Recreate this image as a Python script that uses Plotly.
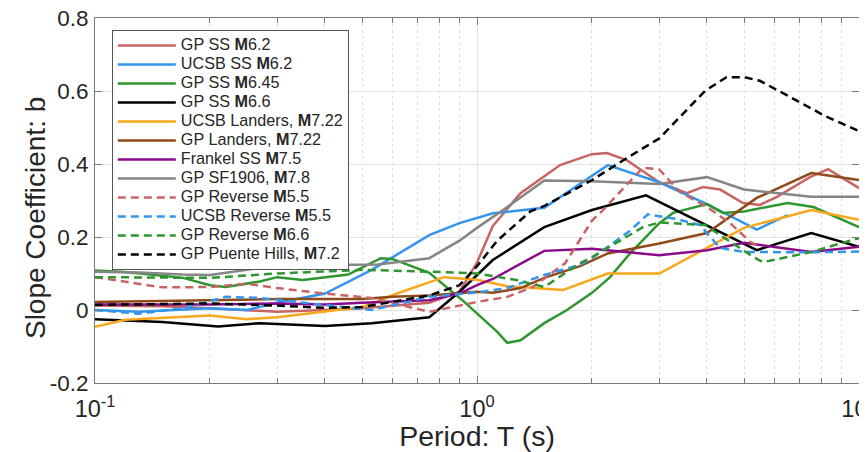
import plotly.graph_objects as go

# ---------------- data ----------------
T_gp_ss_62 = [0.1, 0.15, 0.2, 0.3, 0.4, 0.5, 0.75, 0.9, 1.0, 1.1, 1.3, 1.65, 2.0, 2.19, 2.47, 3.0, 3.54, 3.9, 4.33, 4.97, 5.5, 6.1, 7.44, 8.3, 10]
b_gp_ss_62 = [0.012, 0.01, 0.005, -0.005, 0.0, 0.005, 0.02, 0.05, 0.13, 0.23, 0.32, 0.397, 0.427, 0.43, 0.41, 0.35, 0.32, 0.337, 0.33, 0.293, 0.288, 0.31, 0.364, 0.386, 0.334]

T_ucsb_ss_62 = [0.1, 0.13, 0.2, 0.25, 0.3, 0.4, 0.53, 0.75, 0.9, 1.1, 1.5, 2.2, 3.0, 4.0, 5.4, 6.5]
b_ucsb_ss_62 = [0.0, -0.005, 0.005, 0.0, 0.02, 0.045, 0.11, 0.205, 0.238, 0.265, 0.28, 0.397, 0.35, 0.29, 0.22, 0.26]

T_gp_ss_645 = [0.1, 0.12, 0.17, 0.2, 0.22, 0.27, 0.3, 0.35, 0.46, 0.56, 0.6, 0.75, 0.92, 1.13, 1.2, 1.3, 1.5, 1.72, 2.0, 2.23, 2.52, 3.0, 3.26, 4.0, 4.4, 5.0, 6.5, 7.6, 10]
b_gp_ss_645 = [0.108, 0.104, 0.088, 0.068, 0.063, 0.078, 0.09, 0.082, 0.097, 0.142, 0.14, 0.102, 0.025, -0.06, -0.09, -0.083, -0.036, 0.0, 0.047, 0.09, 0.156, 0.238, 0.266, 0.29, 0.266, 0.27, 0.293, 0.282, 0.227]

T_gp_ss_66 = [0.1, 0.15, 0.21, 0.27, 0.4, 0.53, 0.75, 0.9, 1.1, 1.5, 2.0, 2.77, 5.4, 7.5, 10]
b_gp_ss_66 = [-0.025, -0.033, -0.045, -0.036, -0.044, -0.036, -0.02, 0.05, 0.137, 0.227, 0.274, 0.314, 0.164, 0.211, 0.173]

T_ucsb_landers = [0.1, 0.12, 0.2, 0.25, 0.3, 0.4, 0.5, 0.62, 0.82, 1.0, 1.2, 1.68, 2.2, 3.0, 4.0, 5.0, 7.5, 10]
b_ucsb_landers = [-0.046, -0.027, -0.015, -0.025, -0.02, -0.005, 0.008, 0.046, 0.09, 0.083, 0.065, 0.055, 0.1, 0.1, 0.17, 0.225, 0.274, 0.247]

T_gp_landers = [0.1, 0.2, 0.3, 0.4, 0.5, 0.6, 0.75, 1.0, 1.1, 1.3, 1.5, 1.86, 2.2, 3.0, 4.0, 5.4, 7.5, 10]
b_gp_landers = [0.022, 0.027, 0.03, 0.03, 0.03, 0.036, 0.04, 0.05, 0.047, 0.06, 0.088, 0.12, 0.155, 0.182, 0.211, 0.307, 0.375, 0.356]

T_frankel = [0.1, 0.2, 0.3, 0.4, 0.5, 0.75, 0.9, 1.0, 1.1, 1.5, 2.0, 3.0, 4.0, 5.0, 7.5, 10]
b_frankel = [0.015, 0.015, 0.018, 0.015, 0.02, 0.027, 0.045, 0.068, 0.085, 0.162, 0.168, 0.15, 0.164, 0.184, 0.159, 0.173]

T_gp_sf1906 = [0.1, 0.13, 0.17, 0.2, 0.27, 0.4, 0.55, 0.75, 0.9, 1.0, 1.17, 1.5, 2.0, 3.0, 4.0, 5.0, 7.5, 10]
b_gp_sf1906 = [0.105, 0.103, 0.097, 0.096, 0.115, 0.123, 0.125, 0.142, 0.19, 0.225, 0.274, 0.355, 0.353, 0.345, 0.364, 0.33, 0.31, 0.31]

T_gp_rev_55 = [0.1, 0.15, 0.2, 0.25, 0.3, 0.4, 0.53, 0.75, 1.0, 1.2, 1.4, 1.7, 2.0, 2.14, 2.5, 2.72, 3.0, 3.4, 4.0, 4.6, 5.2, 5.5]
b_gp_rev_55 = [0.09, 0.062, 0.063, 0.072, 0.06, 0.045, 0.033, -0.005, 0.022, 0.036, 0.063, 0.128, 0.245, 0.274, 0.35, 0.39, 0.385, 0.323, 0.282, 0.238, 0.186, 0.173]

T_ucsb_rev_55 = [0.1, 0.13, 0.17, 0.22, 0.27, 0.35, 0.53, 0.75, 1.0, 1.2, 1.5, 1.85, 2.0, 2.5, 2.8, 3.3, 3.83, 4.33, 5.0, 7.5, 10]
b_ucsb_rev_55 = [0.0, -0.01, 0.005, 0.036, 0.033, 0.02, 0.0, 0.036, 0.048, 0.06, 0.096, 0.123, 0.142, 0.215, 0.262, 0.25, 0.233, 0.17, 0.159, 0.158, 0.16]

T_gp_rev_66 = [0.1, 0.2, 0.3, 0.5, 0.75, 1.0, 1.27, 1.5, 1.86, 2.0, 2.72, 3.0, 3.95, 5.3, 5.6, 7.5, 10]
b_gp_rev_66 = [0.09, 0.088, 0.1, 0.11, 0.105, 0.1, 0.082, 0.063, 0.128, 0.145, 0.227, 0.24, 0.233, 0.145, 0.131, 0.159, 0.197]

T_gp_puente = [0.1, 0.2, 0.3, 0.4, 0.5, 0.75, 0.9, 1.0, 1.13, 1.38, 1.5, 2.0, 2.5, 3.0, 3.95, 4.5, 5.0, 5.5, 6.7, 8.2, 10]
b_gp_puente = [0.014, 0.018, 0.012, 0.006, 0.008, 0.04, 0.068, 0.12, 0.19, 0.27, 0.285, 0.356, 0.42, 0.47, 0.6, 0.638, 0.638, 0.628, 0.58, 0.53, 0.49]

names = [
    "GP SS <b>M</b>6.2", "UCSB SS <b>M</b>6.2", "GP SS <b>M</b>6.45", "GP SS <b>M</b>6.6",
    "UCSB Landers, <b>M</b>7.22", "GP Landers, <b>M</b>7.22", "Frankel SS <b>M</b>7.5",
    "GP SF1906, <b>M</b>7.8", "GP Reverse <b>M</b>5.5", "UCSB Reverse <b>M</b>5.5",
    "GP Reverse <b>M</b>6.6", "GP Puente Hills, <b>M</b>7.2",
]

x_tick_vals = [0.1, 1, 10]
x_tick_text = ["10<sup>-1</sup>", "10<sup>0</sup>", "10<sup>1</sup>"]
x_minor_vals = [0.2, 0.3, 0.4, 0.5, 0.6, 0.7, 0.8, 0.9, 2, 3, 4, 5, 6, 7, 8, 9]
y_tick_vals = [-0.2, 0, 0.2, 0.4, 0.6, 0.8]
y_tick_text = ["-0.2", "0", "0.2", "0.4", "0.6", "0.8"]
x_title = "Period: T (s)"
y_title = "Slope Coefficient: b"

# ---------------- styling ----------------
RED = "#C96464"
BLUE = "#3396EE"
GREEN = "#2E962E"
BLACK = "#000000"
ORANGE = "#F7A81E"
BROWN = "#8F4A1A"
PURPLE = "#8A0A8A"
GRAY = "#858585"
DASH = "8px,5px"

series = [
    (T_gp_ss_62, b_gp_ss_62, RED, "solid"),
    (T_ucsb_ss_62, b_ucsb_ss_62, BLUE, "solid"),
    (T_gp_ss_645, b_gp_ss_645, GREEN, "solid"),
    (T_gp_ss_66, b_gp_ss_66, BLACK, "solid"),
    (T_ucsb_landers, b_ucsb_landers, ORANGE, "solid"),
    (T_gp_landers, b_gp_landers, BROWN, "solid"),
    (T_frankel, b_frankel, PURPLE, "solid"),
    (T_gp_sf1906, b_gp_sf1906, GRAY, "solid"),
    (T_gp_rev_55, b_gp_rev_55, RED, DASH),
    (T_ucsb_rev_55, b_ucsb_rev_55, BLUE, DASH),
    (T_gp_rev_66, b_gp_rev_66, GREEN, DASH),
    (T_gp_puente, b_gp_puente, BLACK, DASH),
]

fig = go.Figure()
for (t, b, c, d), n in zip(series, names):
    fig.add_trace(go.Scatter(x=t, y=b, mode="lines",
                             name='<span style="font-size:16.2px">' + n + '</span>',
                             line=dict(color=c, width=2.5, dash=d)))

FONT = "Liberation Sans, Arial, Helvetica, sans-serif"
AXC = "#7a7a7a"
# page body has an 8px margin, so the figure is sized/offset accordingly
fig.update_layout(
    width=859, height=444,
    margin=dict(l=87, r=8, t=10, b=69),
    paper_bgcolor="white", plot_bgcolor="white",
    font=dict(family=FONT, color="#262626", size=22),
    showlegend=True,
    legend=dict(x=0.022, y=0.967, xanchor="left", yanchor="top",
                bgcolor="white", bordercolor="#555555", borderwidth=1,
                font=dict(size=12, color="#262626", family=FONT),
                tracegroupgap=0, itemwidth=58),
    xaxis=dict(type="log", range=[-1, 1],
               tickmode="array", tickvals=x_tick_vals, ticktext=x_tick_text,
               ticks="inside", ticklen=7, tickcolor=AXC,
               showline=True, linecolor=AXC, linewidth=1, mirror="ticks",
               showgrid=True, gridcolor="#e3e3e3", gridwidth=1,
               zeroline=False, ticklabelstandoff=5, ticklabeloverflow="allow",
               minor=dict(tickmode="array", tickvals=x_minor_vals, ticks="inside",
                          ticklen=5, tickcolor=AXC, showgrid=True,
                          gridcolor="#e0e0e0", griddash="dot", gridwidth=1),
               tickfont=dict(size=23.5),
               title=dict(text=x_title, font=dict(size=28.5), standoff=1),
               automargin=False),
    yaxis=dict(range=[-0.2, 0.8], tickmode="array", tickvals=y_tick_vals,
               ticktext=y_tick_text,
               ticks="inside", ticklen=7, tickcolor=AXC,
               showline=True, linecolor=AXC, linewidth=1, mirror="ticks",
               showgrid=True, gridcolor="#e3e3e3", gridwidth=1,
               zeroline=False, ticklabelstandoff=1, ticklabeloverflow="allow",
               tickfont=dict(size=22.5),
               automargin=False),
    annotations=[dict(text=y_title, textangle=-90, xref="paper", yref="paper",
                      x=-0.0785, y=0.452, xanchor="center", yanchor="middle",
                      showarrow=False, font=dict(size=28, color="#262626", family=FONT))],
)

fig.write_html("out.html")
